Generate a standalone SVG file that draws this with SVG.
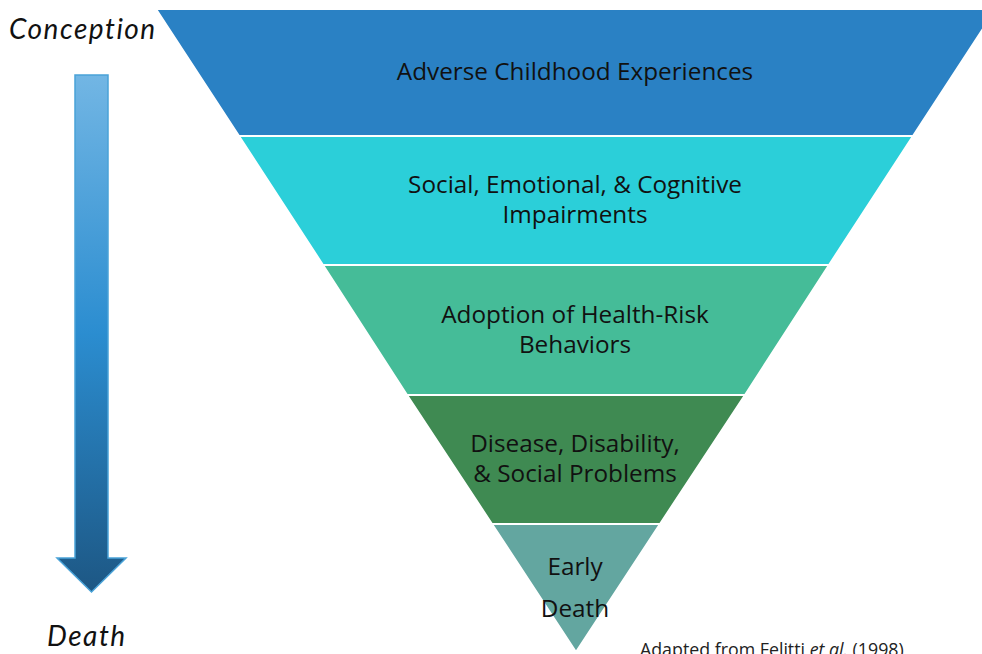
<svg xmlns="http://www.w3.org/2000/svg" width="982" height="654" viewBox="0 0 982 654">
  <defs>
    <linearGradient id="timeGrad" x1="0" y1="75" x2="0" y2="592" gradientUnits="userSpaceOnUse">
      <stop offset="0" stop-color="#72b6e4"/>
      <stop offset="0.5" stop-color="#2b8dd0"/>
      <stop offset="1" stop-color="#1d5784"/>
    </linearGradient>
    <style>
      .band { stroke: #ffffff; stroke-width: 2; }
      .label { font-family: "Open Sans", "Liberation Sans", sans-serif; font-size: 24.3px; fill: #111111; text-anchor: middle; }
      .axis { font-family: "Lato", "DejaVu Sans", sans-serif; font-style: italic; font-size: 28px; letter-spacing: 1.5px; fill: #111111; }
      .cite { font-family: "Open Sans", "Liberation Sans", sans-serif; font-size: 17.8px; fill: #222222; }
    </style>
  </defs>

  <rect x="0" y="0" width="982" height="654" fill="#ffffff"/>

  <!-- Time axis -->
  <g id="axis">
    <text class="axis" x="9" y="39">Conception</text>
    <path d="M75,75 H108 V558 H126 L91.5,592 L57,558 H75 Z" fill="url(#timeGrad)" stroke="#4aa3d8" stroke-width="1.5"/>
    <text class="axis" x="47" y="646">Death</text>
  </g>

  <!-- Inverted pyramid: apex at (576,652), sides slope 0.653 px per px -->
  <g id="band-ace">
    <polygon class="band" points="156,9 996,9 913,136 239,136" fill="#2a81c4"/>
    <text class="label" x="575" y="80">Adverse Childhood Experiences</text>
  </g>
  <g id="band-impairments">
    <polygon class="band" points="239,136 913,136 829,265 323,265" fill="#2bcfd9"/>
    <text class="label" x="575" y="193">Social, Emotional, &amp; Cognitive</text>
    <text class="label" x="575" y="223">Impairments</text>
  </g>
  <g id="band-behaviors">
    <polygon class="band" points="323,265 829,265 745,395 407,395" fill="#45bc98"/>
    <text class="label" x="575" y="323">Adoption of Health-Risk</text>
    <text class="label" x="575" y="353">Behaviors</text>
  </g>
  <g id="band-disease">
    <polygon class="band" points="407,395 745,395 660,524 492,524" fill="#3f8a52"/>
    <text class="label" x="575" y="452">Disease, Disability,</text>
    <text class="label" x="575" y="482">&amp; Social Problems</text>
  </g>
  <g id="band-death">
    <polygon class="band" points="492,524 660,524 576,652" fill="#63a6a0"/>
    <text class="label" x="575" y="575">Early</text>
    <text class="label" x="575" y="617">Death</text>
  </g>

  <text class="cite" x="640" y="656">Adapted from Felitti <tspan font-style="italic">et al.</tspan> (1998)</text>
</svg>
